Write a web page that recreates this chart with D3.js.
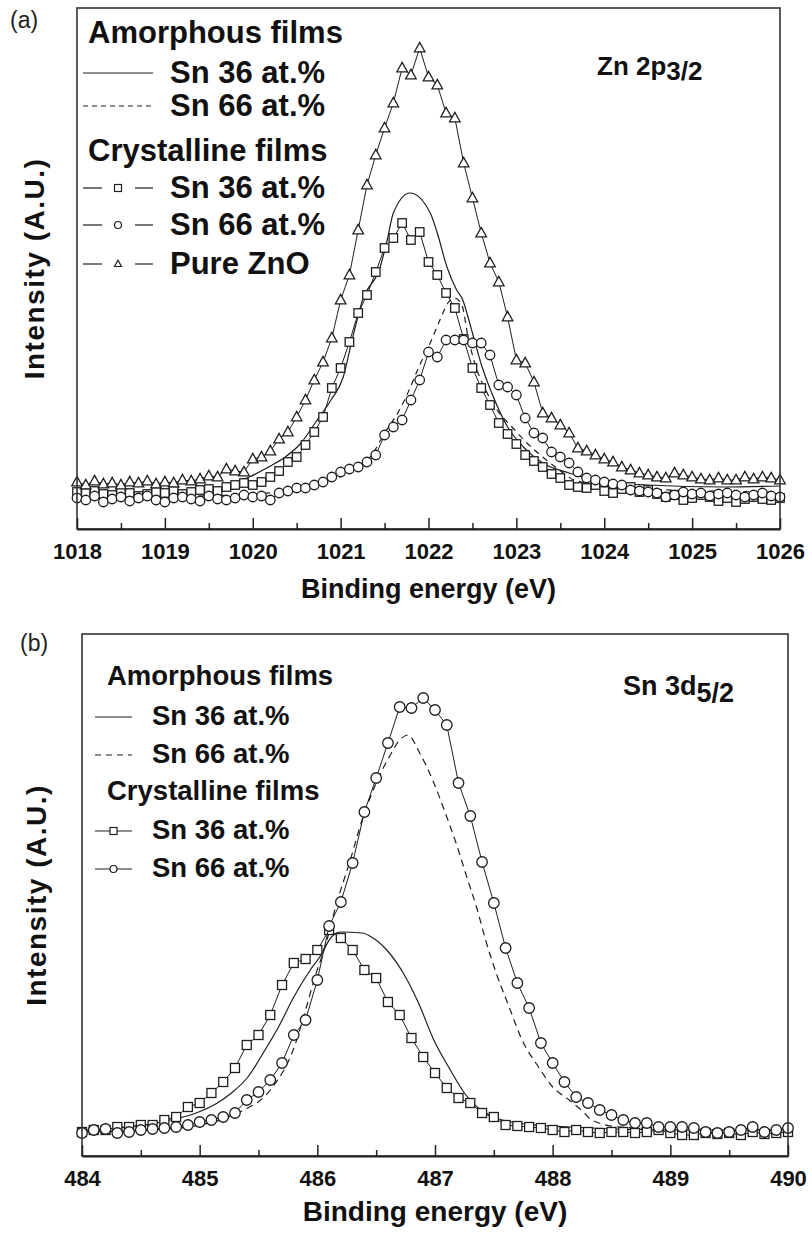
<!DOCTYPE html>
<html>
<head>
<meta charset="utf-8">
<script src="https://cdn.jsdelivr.net/npm/d3@7"></script>
<style>
  body { margin: 0; background: #fff; }
  svg { display: block; font-family: "Liberation Sans", Arial, sans-serif; }
  .tick text { font-weight: bold; }
</style>
</head>
<body>
<div id="chart"></div>
<script>
// ---------- data: panel (a) Zn 2p3/2 ----------
var energyA = [1018.0,1018.1,1018.2,1018.3,1018.4,1018.5,1018.6,1018.7,1018.8,1018.9,
  1019.0,1019.1,1019.2,1019.3,1019.4,1019.5,1019.6,1019.7,1019.8,1019.9,
  1020.0,1020.1,1020.2,1020.3,1020.4,1020.5,1020.6,1020.7,1020.8,1020.9,
  1021.0,1021.1,1021.2,1021.3,1021.4,1021.5,1021.6,1021.7,1021.8,1021.9,
  1022.0,1022.1,1022.2,1022.3,1022.4,1022.5,1022.6,1022.7,1022.8,1022.9,
  1023.0,1023.1,1023.2,1023.3,1023.4,1023.5,1023.6,1023.7,1023.8,1023.9,
  1024.0,1024.1,1024.2,1024.3,1024.4,1024.5,1024.6,1024.7,1024.8,1024.9,
  1025.0,1025.1,1025.2,1025.3,1025.4,1025.5,1025.6,1025.7,1025.8,1025.9,
  1026.0];

// crystalline Sn 36 at.% (squares)
var squareA = [37,36,38,35,34,37,36,33,35,37,
  36,38,35,37,39,40,38,42,44,46,
  44,47,52,58,67,72,84,97,112,141,
  161,187,216,234,257,281,291,306,289,297,
  267,254,236,221,190,161,141,124,106,95,
  85,74,68,62,55,51,44,42,41,44,
  38,36,40,42,37,39,35,32,34,29,
  31,34,32,28,31,27,30,32,30,29,
  31];

// crystalline Sn 66 at.% (circles)
var circleA = [31,29,33,27,30,32,28,31,33,29,
  27,31,32,30,28,33,30,29,31,34,
  32,33,29,36,38,41,41,44,47,52,
  57,60,62,67,74,94,102,109,129,149,
  177,172,189,189,189,186,186,174,144,142,
  134,111,96,91,77,72,66,57,51,49,
  47,45,44,39,38,37,36,32,34,37,
  35,36,33,35,36,34,32,34,36,33,
  32];

// pure ZnO (triangles)
var triangleA = [47,44,48,45,46,44,47,46,48,45,
  47,46,49,48,50,53,52,60,58,57,
  70,72,78,90,97,112,129,149,167,191,
  229,254,299,344,374,401,426,461,454,481,
  452,444,416,411,366,331,296,266,247,212,
  169,166,147,116,111,104,96,81,78,74,
  70,67,62,59,56,54,52,51,56,54,
  52,50,49,51,49,49,52,50,52,51,
  49];

// amorphous films, [energy, intensity]
var solidA = [[1018.0,34],[1018.9,36],[1019.37,37],[1019.66,42],[1019.96,52],[1020.18,62],
  [1020.37,72],[1020.55,86],[1020.71,106],[1020.89,129],[1021.03,152],[1021.13,189],
  [1021.25,229],[1021.45,262],[1021.53,289],[1021.6,316],[1021.79,336],[1022.02,316],
  [1022.1,296],[1022.21,262],[1022.32,239],[1022.39,229],[1022.45,212],[1022.5,196],
  [1022.61,162],[1022.72,136],[1022.9,102],[1023.08,82],[1023.3,66],[1023.6,56],
  [1023.9,49],[1024.49,44],[1025.36,42],[1026.0,43]];

var dashedA = [[1018.0,32],[1019.4,33],[1020.31,37],[1020.88,49],[1021.16,59],[1021.37,76],
  [1021.5,96],[1021.65,116],[1021.78,139],[1021.89,162],[1022.0,182],[1022.13,209],
  [1022.22,226],[1022.3,231],[1022.38,224],[1022.45,192],[1022.54,162],[1022.65,139],
  [1022.78,119],[1022.95,102],[1023.12,86],[1023.3,72],[1023.49,59],[1023.66,49],
  [1024.19,42],[1024.77,39],[1025.95,37]];

var ticksA = [1018,1019,1020,1021,1022,1023,1024,1025,1026];
var minorA = [1018.5,1019.5,1020.5,1021.5,1022.5,1023.5,1024.5,1025.5];

// ---------- data: panel (b) Sn 3d5/2 ----------
var energyB = [484.0,484.1,484.2,484.3,484.4,484.5,484.6,484.7,484.8,484.9,
  485.0,485.1,485.2,485.3,485.4,485.5,485.6,485.7,485.8,485.9,
  486.0,486.1,486.2,486.3,486.4,486.5,486.6,486.7,486.8,486.9,
  487.0,487.1,487.2,487.3,487.4,487.5,487.6,487.7,487.8,487.9,
  488.0,488.1,488.2,488.3,488.4,488.5,488.6,488.7,488.8,488.9,
  489.0,489.1,489.2,489.3,489.4,489.5,489.6,489.7,489.8,489.9,
  490.0];

var squareB = [24,26,26,29,29,31,31,36,39,49,
  53,63,74,88,111,121,141,171,193,197,
  206,226,218,206,186,178,154,141,118,99,
  83,68,58,53,43,39,31,30,29,28,
  26,24,26,24,23,24,24,23,24,26,
  23,21,21,23,22,23,21,24,22,23,
  24];

var circleB = [23,26,27,23,24,26,27,28,29,31,
  34,36,39,43,56,64,76,93,121,136,
  176,230,254,293,344,378,413,449,448,458,
  446,431,373,340,294,253,208,173,148,113,
  93,74,59,53,46,41,36,33,33,29,
  29,29,28,24,23,24,26,29,24,26,
  28];

var solidB = [[484.0,26],[484.4,29],[484.75,36],[484.97,43],[485.15,53],[485.27,63],
  [485.41,79],[485.54,103],[485.67,129],[485.8,159],[485.94,186],[486.02,199],
  [486.12,219],[486.2,224],[486.38,223],[486.46,219],[486.59,206],[486.73,183],
  [486.86,153],[486.99,116],[487.13,86],[487.25,63],[487.39,46],[487.52,38],
  [487.7,33],[488.14,29],[489.01,26],[490.0,26]];

var dashedB = [[484.0,24],[484.58,26],[485.0,31],[485.34,44],[485.6,66],[485.81,111],
  [485.9,146],[485.98,179],[486.07,211],[486.16,251],[486.28,296],[486.38,336],
  [486.5,373],[486.62,401],[486.7,416],[486.77,421],[486.87,403],[486.98,376],
  [487.1,339],[487.19,309],[487.27,279],[487.36,246],[487.43,216],[487.52,183],
  [487.63,149],[487.74,116],[487.88,89],[488.0,69],[488.14,56],[488.27,43],
  [488.33,36],[488.57,29],[489.25,26],[490.0,26]];

var ticksB = [484,485,486,487,488,489,490];
var minorB = [484.5,485.5,486.5,487.5,488.5,489.5];

// ---------- drawing ----------
var ink = "#1e1e1e";

var svg = d3.select("#chart").append("svg")
    .attr("width", 812)
    .attr("height", 1234);

function zip(xs, ys) {
    return xs.map(function (e, i) { return [e, ys[i]]; });
}

// marker shapes, centred on 0,0
function drawMarker(g, shape, s) {
    if (shape === "square") {
        g.append("rect").attr("x", -s / 2).attr("y", -s / 2)
            .attr("width", s).attr("height", s);
    } else if (shape === "circle") {
        g.append("circle").attr("r", s / 2);
    } else {
        var h = s * 0.9;
        g.append("path").attr("d", "M0," + (-h * 0.6) + "L" + (s / 2) + "," + (h * 0.4) +
            "L" + (-s / 2) + "," + (h * 0.4) + "Z");
    }
}

function drawPanel(p) {
    var x = d3.scaleLinear().domain(p.xDomain).range([p.left, p.right]);
    var y = d3.scaleLinear().domain(p.yDomain).range([p.bottom, p.top]);
    var g = svg.append("g");

    var line = d3.line()
        .x(function (d) { return x(d[0]); })
        .y(function (d) { return y(d[1]); });

    // amorphous films: plain lines
    g.append("path").datum(p.solid)
        .attr("d", line.curve(d3.curveMonotoneX))
        .attr("fill", "none").attr("stroke", ink).attr("stroke-width", 1.2);
    g.append("path").datum(p.dashed)
        .attr("d", line.curve(d3.curveMonotoneX))
        .attr("fill", "none").attr("stroke", ink).attr("stroke-width", 1.2)
        .attr("stroke-dasharray", p.dash);

    // crystalline films: line + open markers
    p.marked.forEach(function (s) {
        var pts = zip(p.energy, s.values);
        g.append("path").datum(pts)
            .attr("d", line.curve(d3.curveLinear))
            .attr("fill", "none").attr("stroke", ink).attr("stroke-width", 1);
        pts.forEach(function (d) {
            var m = g.append("g")
                .attr("transform", "translate(" + x(d[0]) + "," + y(d[1]) + ")")
                .attr("fill", "#fff").attr("stroke", ink).attr("stroke-width", 1.3);
            drawMarker(m, s.shape, s.size);
        });
    });

    // frame
    g.append("rect")
        .attr("x", p.left).attr("y", p.top)
        .attr("width", p.right - p.left).attr("height", p.bottom - p.top)
        .attr("fill", "none").attr("stroke", "#333").attr("stroke-width", 1.6);

    // x axis, ticks pointing inwards
    var ax = g.append("g")
        .attr("transform", "translate(0," + p.bottom + ")")
        .call(d3.axisBottom(x).tickValues(p.ticks).tickSizeInner(-11).tickSizeOuter(0)
            .tickPadding(14).tickFormat(d3.format("d")));
    ax.select(".domain").attr("stroke", "#222").attr("stroke-width", 2);
    ax.selectAll(".tick line").attr("stroke", "#222").attr("stroke-width", 1.5);
    ax.selectAll(".tick text").attr("font-size", 22).attr("fill", "#111")
        .attr("font-family", "'Liberation Sans', Arial, sans-serif");

    var mx = g.append("g")
        .attr("transform", "translate(0," + p.bottom + ")")
        .call(d3.axisBottom(x).tickValues(p.minor).tickSizeInner(-6).tickSizeOuter(0)
            .tickFormat(""));
    mx.select(".domain").remove();
    mx.selectAll(".tick line").attr("stroke", "#222").attr("stroke-width", 1.5);

    // axis titles
    g.append("text")
        .attr("x", (p.left + p.right) / 2).attr("y", p.xTitleY)
        .attr("text-anchor", "middle").attr("font-size", p.xTitleSize).attr("font-weight", "bold")
        .attr("fill", "#111").text("Binding energy (eV)");
    g.append("text")
        .attr("transform", "translate(" + p.yTitleX + "," + ((p.top + p.bottom) / 2) + ") rotate(-90)")
        .attr("text-anchor", "middle").attr("font-size", 28).attr("font-weight", "bold")
        .attr("letter-spacing", 1.5)
        .attr("fill", "#111").text("Intensity (A.U.)");

    // panel tag
    g.append("text").attr("x", p.tag.x).attr("y", p.tag.y)
        .attr("font-size", 23).attr("fill", "#222").text(p.tag.text);

    // peak label with subscript
    var pk = g.append("text").attr("x", p.peak.x).attr("y", p.peak.y)
        .attr("font-size", p.peak.size).attr("font-weight", "bold").attr("fill", "#111");
    pk.append("tspan").text(p.peak.main);
    pk.append("tspan").attr("dy", p.peak.sub).text(p.peak.subText);

    // legend
    var L = p.legend;
    var lg = g.append("g").attr("font-weight", "bold").attr("font-size", L.fontSize)
        .attr("fill", "#111");
    L.rows.forEach(function (r) {
        if (r.header) {
            lg.append("text").attr("x", L.headerX).attr("y", r.y).text(r.label);
            return;
        }
        lg.append("text").attr("x", L.textX).attr("y", r.y).text(r.label);
        var ly = r.y - L.lineOffset;
        if (!r.shape) {
            lg.append("line").attr("x1", L.x0).attr("x2", L.x1).attr("y1", ly).attr("y2", ly)
                .attr("stroke", ink).attr("stroke-width", 1.2)
                .attr("stroke-dasharray", r.dashed ? L.dash : null);
        } else {
            var mid = (L.x0 + L.x1) / 2;
            L.segs.forEach(function (sg) {
                lg.append("line").attr("x1", mid + sg[0]).attr("x2", mid + sg[1])
                    .attr("y1", ly).attr("y2", ly)
                    .attr("stroke", ink).attr("stroke-width", 1.2);
            });
            var m = lg.append("g").attr("transform", "translate(" + mid + "," + ly + ")")
                .attr("fill", "#fff").attr("stroke", ink).attr("stroke-width", 1.2);
            drawMarker(m, r.shape, L.markerSize);
        }
    });
}

drawPanel({
    left: 77, right: 780, top: 8, bottom: 529,
    xDomain: [1018, 1026], yDomain: [0, 521],
    ticks: ticksA, minor: minorA,
    energy: energyA,
    solid: solidA, dashed: dashedA, dash: "6,5",
    marked: [
        { values: squareA, shape: "square", size: 8.5 },
        { values: circleA, shape: "circle", size: 9.5 },
        { values: triangleA, shape: "triangle", size: 10.5 }
    ],
    xTitleY: 598, xTitleSize: 27, yTitleX: 44,
    tag: { x: 10, y: 28, text: "(a)" },
    peak: { x: 597, y: 75, size: 26, main: "Zn 2p", subText: "3/2", sub: 5 },
    legend: {
        fontSize: 31, headerX: 88, textX: 170, x0: 83, x1: 153, lineOffset: 10,
        dash: "5,4", segs: [[-35, -16], [17, 35]], markerSize: 7,
        rows: [
            { header: true, label: "Amorphous films", y: 43 },
            { label: "Sn 36 at.%", y: 83 },
            { label: "Sn 66 at.%", y: 116, dashed: true },
            { header: true, label: "Crystalline films", y: 161 },
            { label: "Sn 36 at.%", y: 198, shape: "square" },
            { label: "Sn 66 at.%", y: 235, shape: "circle" },
            { label: "Pure ZnO", y: 274, shape: "triangle" }
        ]
    }
});

drawPanel({
    left: 82, right: 788, top: 634, bottom: 1156,
    xDomain: [484, 490], yDomain: [0, 522],
    ticks: ticksB, minor: minorB,
    energy: energyB,
    solid: solidB, dashed: dashedB, dash: "7,5",
    marked: [
        { values: squareB, shape: "square", size: 9 },
        { values: circleB, shape: "circle", size: 10.5 }
    ],
    xTitleY: 1221, xTitleSize: 28, yTitleX: 46,
    tag: { x: 20, y: 651, text: "(b)" },
    peak: { x: 623, y: 695, size: 27, main: "Sn 3d", subText: "5/2", sub: 7 },
    legend: {
        fontSize: 27.5, headerX: 107, textX: 152, x0: 95, x1: 132, lineOffset: 8,
        dash: "6,5", segs: [[-18.5, 18.5]], markerSize: 7,
        rows: [
            { header: true, label: "Amorphous films", y: 685 },
            { label: "Sn 36 at.%", y: 725 },
            { label: "Sn 66 at.%", y: 763, dashed: true },
            { header: true, label: "Crystalline films", y: 800 },
            { label: "Sn 36 at.%", y: 839, shape: "square" },
            { label: "Sn 66 at.%", y: 877, shape: "circle" }
        ]
    }
});
</script>
</body>
</html>
